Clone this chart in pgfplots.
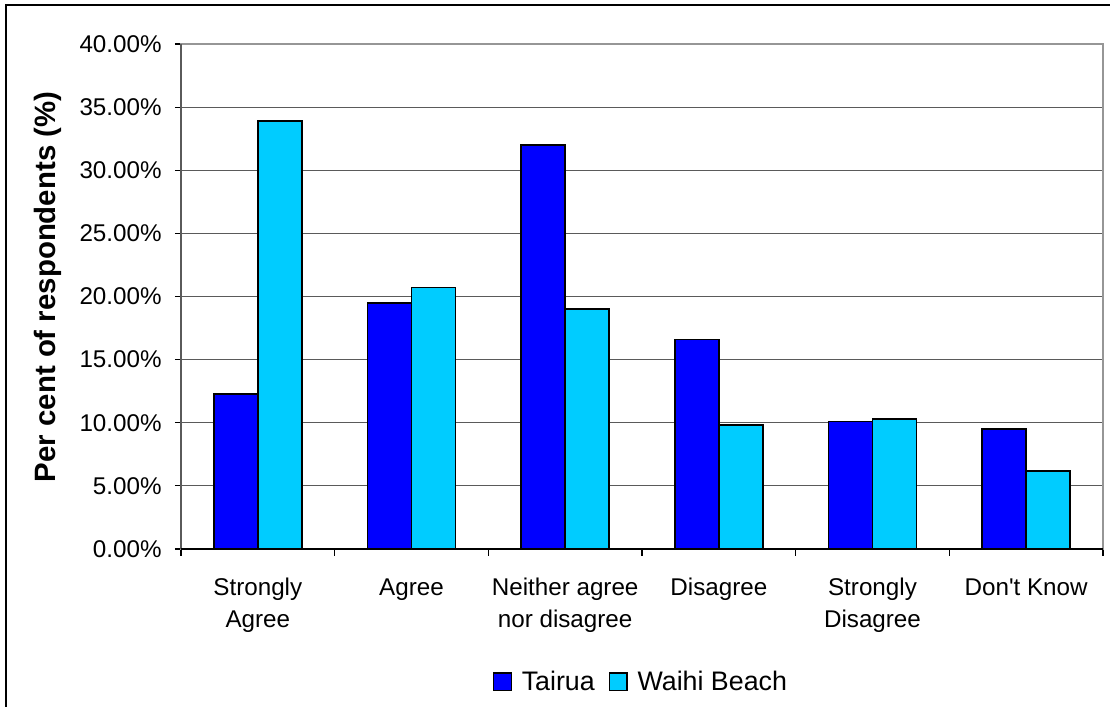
\documentclass[border=0pt]{standalone}
\usepackage{pgfplots}
\pgfplotsset{compat=1.18}
\usepackage{fontspec}
\setmainfont{Liberation Sans}
\newfontfamily\apfont{Liberation Sans}[Mapping=]
\definecolor{tairua}{RGB}{0,0,255}
\definecolor{waihi}{RGB}{0,204,255}
\definecolor{gridc}{RGB}{90,90,90}
\definecolor{framec}{RGB}{150,150,150}
\begin{document}
\begin{tikzpicture}
\useasboundingbox (0pt,0pt) rectangle (555pt,353.5pt);
\draw[black, line width=1pt] (3pt,0pt) -- (3pt,351pt) -- (555pt,351pt);
\begin{axis}[
  at={(90.5pt,79pt)}, anchor=south west, scale only axis,
  width=461pt, height=252.5pt,
  xmin=-0.5, xmax=5.5, ymin=0, ymax=40,
  axis line style={draw=framec, line width=1pt},
  xtick pos=bottom, ytick pos=left,
  xtick={0,1,2,3,4,5},
  xticklabels={{Strongly\\Agree},{Agree},{Neither agree\\nor disagree},{Disagree},{Strongly\\Disagree},{Don{\apfont'}t Know}},
  minor xtick={-0.5,0.5,...,5.5},
  major x tick style={draw=none},
  minor x tick style={black, line width=0.6pt},
  minor tick length=3.5pt,
  ytick={0,5,...,40},
  yticklabels={0.00\%,5.00\%,10.00\%,15.00\%,20.00\%,25.00\%,30.00\%,35.00\%,40.00\%},
  major y tick style={black, line width=0.6pt},
  major tick length=3pt,
  tick align=outside,
  ymajorgrids, major grid style={gridc, line width=0.6pt},
  ticklabel style={font=\fontsize{12.1}{16}\selectfont},
  yticklabel style={anchor=east, inner sep=0pt, xshift=-6.5pt},
  xticklabel style={align=center, anchor=north, inner sep=0pt, yshift=-11.5pt},
  ylabel={Per cent of respondents (\%)},
  ylabel style={font=\fontsize{14.7}{17}\selectfont\bfseries, at={(axis description cs:-0.144,0.519)}, anchor=center, rotate=0},
  legend style={at={(axis description cs:0.5,-0.263)}, anchor=center, draw=none, fill=none,
    legend columns=2, font=\fontsize{13.4}{15}\selectfont,
    /tikz/every odd column/.append style={column sep=3pt},
    /tikz/every even column/.append style={column sep=5pt},
    nodes={inner sep=2pt}},
  legend image code/.code={\draw[#1, line width=0.6pt] (0pt,-4.4pt) rectangle (8.8pt,4.4pt);},
  clip=false,
]
\addplot[ybar, bar width=0.286, bar shift=-0.143, fill=tairua, draw=black, line width=0.8pt]
  coordinates {(0,12.3) (1,19.5) (2,32.0) (3,16.6) (4,10.1) (5,9.5)};
\addplot[ybar, bar width=0.286, bar shift=0.143, fill=waihi, draw=black, line width=0.8pt]
  coordinates {(0,33.9) (1,20.7) (2,19.0) (3,9.8) (4,10.3) (5,6.2)};
\legend{Tairua,Waihi Beach}
\draw[gridc, line width=0.8pt] (rel axis cs:0,0) -- (rel axis cs:0,1);
\draw[black, line width=0.8pt] (rel axis cs:0,0) -- (rel axis cs:1,0);
\end{axis}
\end{tikzpicture}
\end{document}
